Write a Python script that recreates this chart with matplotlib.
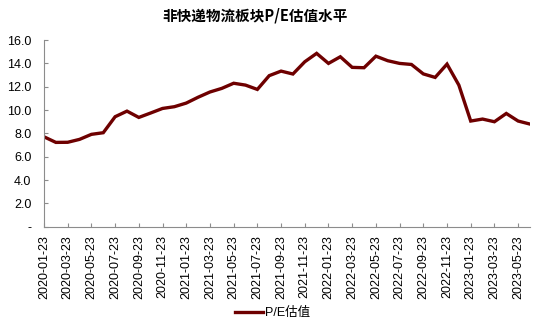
import matplotlib
matplotlib.use("Agg")
import matplotlib.pyplot as plt
from matplotlib.ticker import FuncFormatter

plt.rcParams['font.family'] = ['Liberation Sans', 'Noto Sans CJK SC', 'DejaVu Sans']

# 月度P/E估值（每月23日）
dates = [
    "2020-01-23", "2020-02-23", "2020-03-23", "2020-04-23", "2020-05-23", "2020-06-23",
    "2020-07-23", "2020-08-23", "2020-09-23", "2020-10-23", "2020-11-23", "2020-12-23",
    "2021-01-23", "2021-02-23", "2021-03-23", "2021-04-23", "2021-05-23", "2021-06-23",
    "2021-07-23", "2021-08-23", "2021-09-23", "2021-10-23", "2021-11-23", "2021-12-23",
    "2022-01-23", "2022-02-23", "2022-03-23", "2022-04-23", "2022-05-23", "2022-06-23",
    "2022-07-23", "2022-08-23", "2022-09-23", "2022-10-23", "2022-11-23", "2022-12-23",
    "2023-01-23", "2023-02-23", "2023-03-23", "2023-04-23", "2023-05-23", "2023-06-23",
]
pe = [
    7.71, 7.23, 7.24, 7.49, 7.92, 8.06,
    9.43, 9.91, 9.37, 9.75, 10.14, 10.29,
    10.60, 11.10, 11.55, 11.86, 12.30, 12.14,
    11.77, 12.95, 13.34, 13.09, 14.14, 14.86,
    14.00, 14.57, 13.66, 13.63, 14.62, 14.23,
    14.00, 13.91, 13.10, 12.80, 13.94, 12.14,
    9.06, 9.23, 9.00, 9.71, 9.06, 8.80,
]

line_color = '#6e0000'
axis_color = '#8c8c8c'

fig = plt.figure(figsize=(5.5, 3.32), dpi=100)
ax = fig.add_axes([0.08, 0.317, 0.8836, 0.5623])

x = list(range(len(dates)))
ax.plot(x, pe, color=line_color, linewidth=2.4, solid_joinstyle='miter', label='P/E估值')

ax.set_xlim(0, len(dates) - 1)
ax.set_ylim(0, 16)
ax.set_yticks(range(0, 17, 2))
ax.yaxis.set_major_formatter(FuncFormatter(lambda v, p: '-' if v == 0 else f'{v:.1f}'))
ax.set_xticks(x[::2])
ax.set_xticklabels(dates[::2], rotation=90)

for side in ['top', 'right']:
    ax.spines[side].set_visible(False)
for side in ['left', 'bottom']:
    ax.spines[side].set_color(axis_color)
    ax.spines[side].set_linewidth(0.8)

ax.tick_params(axis='both', direction='in', length=3, width=0.8, color=axis_color,
               labelsize=9, labelcolor='black')
ax.tick_params(axis='y', pad=9)
ax.tick_params(axis='x', pad=6)

fig.text(0.464, 0.953, '非快递物流板块P/E估值水平', ha='center', va='center',
         fontsize=10.5, fontweight='bold', family=['Noto Sans CJK SC', 'DejaVu Sans'])

fig.legend(loc='center', bbox_to_anchor=(0.495, 0.057), frameon=False, fontsize=9,
           handlelength=2.3, handletextpad=0.1)

fig.savefig('out.png', dpi=100)
